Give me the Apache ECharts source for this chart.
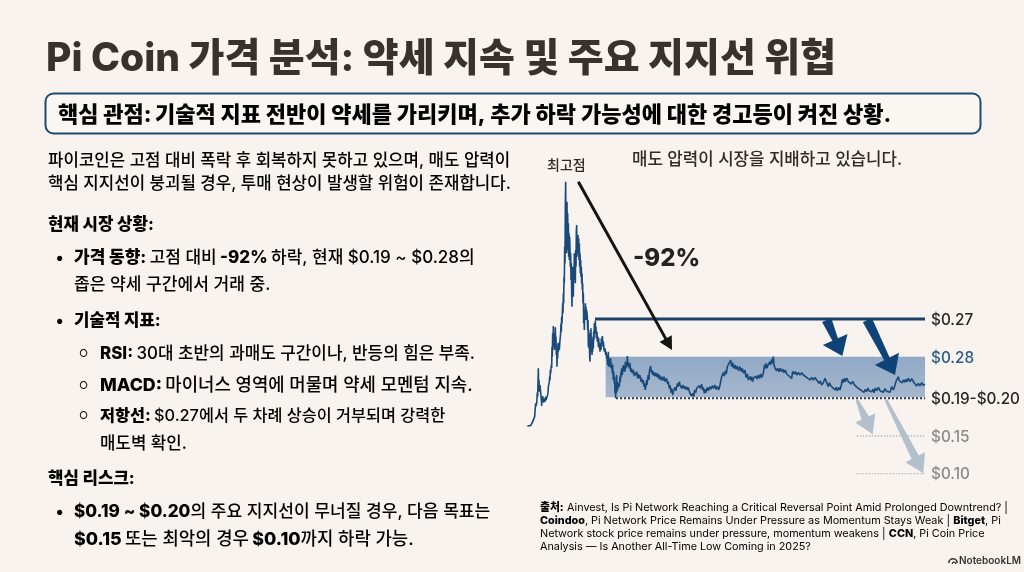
<!DOCTYPE html>
<html><head><meta charset="utf-8">
<style>html,body{margin:0;padding:0;background:#f8f3ee}#c{width:1024px;height:572px}</style>
<script src="https://cdn.jsdelivr.net/npm/echarts@6/dist/echarts.min.js"></script>
</head><body><div id="c"></div>
<script>
// Schematic price path: [time step, height above the chart floor]
const pricePath = [[22,162],[25,165],[28,168],[31,163],[33,166],[36,170],[38,168],[42,172],[44,190],[45,205],[47,230],[48,222],[50,230],[52,262],[53,250],[55,335],[56,280],[57,300],[58,265],[60,285],[62,280],[63,250],[64,240],[65,222],[66,250],[67,235],[68,252],[71,232],[72,245],[75,235],[77,250],[78,240],[82,252],[84,262],[85,280],[87,275],[88,295],[89,310],[90,300],[91,330],[92,320],[94,345],[95,335],[96,400],[97,370],[98,440],[99,400],[100,462],[101,410],[102,440],[103,390],[104,425],[105,395],[106,458],[107,400],[108,430],[109,375],[110,400],[111,340],[112,395],[113,365],[114,410],[115,385],[117,412],[118,390],[120,420],[122,440],[123,470],[124,445],[125,490],[126,470],[128,530],[129,500],[130,560],[131,530],[132,610],[133,590],[134,700],[135,650],[136,820],[137,895],[138,720],[139,790],[140,680],[141,835],[142,700],[143,800],[144,690],[145,770],[146,670],[147,740],[148,660],[149,730],[150,690],[151,640],[152,680],[153,600],[154,650],[155,560],[156,520],[157,640],[158,560],[159,610],[160,550],[161,640],[162,600],[163,680],[164,610],[165,650],[166,590],[167,690],[168,640],[169,745],[170,765],[171,670],[172,725],[173,680],[174,735],[175,690],[176,725],[177,660],[178,710],[179,640],[180,680],[181,620],[182,660],[183,610],[184,640],[185,590],[186,620],[187,570],[188,590],[189,530],[190,560],[191,470],[192,500],[193,450],[194,510],[195,480],[196,530],[197,490],[198,520],[199,480],[200,510],[202,490],[203,450],[204,480],[205,400],[206,450],[207,395],[208,420],[209,370],[210,355],[211,440],[212,400],[213,455],[214,385],[215,420],[216,375],[217,415],[218,385],[219,430],[220,395],[221,445],[222,420],[223,470],[224,440],[226,478],[227,440],[228,460],[229,425],[231,445],[232,415],[234,430],[235,400],[236,425],[238,395],[239,410],[240,385],[241,400],[243,390],[244,425],[246,415],[247,432],[249,400],[250,415],[252,395],[253,385],[255,395],[257,375],[258,385],[260,365],[261,375],[263,345],[265,385],[266,340],[268,365],[270,340],[272,365],[273,335],[275,350],[277,320],[278,345],[280,300],[281,325],[283,290],[284,310],[285,260],[286,285],[287,245],[288,290],[289,260],[290,315],[291,265],[292,295],[293,270],[295,290],[297,295],[298,280],[300,310],[301,295],[303,325],[304,310],[305,335],[307,315],[308,330],[310,345],[311,325],[313,340],[315,325],[316,355],[318,335],[319,350],[321,340],[322,372],[324,340],[326,352],[328,335],[330,350],[332,325],[334,335],[337,320],[340,330],[343,312],[345,322],[348,315],[350,325],[353,305],[355,318],[358,305],[360,315],[363,295],[365,305],[368,290],[370,300],[372,280],[374,290],[376,270],[378,285],[380,300],[381,285],[383,305],[385,315],[387,300],[388,325],[390,335],[392,342],[394,322],[396,330],[398,315],[400,325],[403,312],[406,322],[409,310],[412,320],[415,305],[418,316],[421,300],[425,310],[428,298],[432,310],[435,295],[440,305],[443,288],[445,295],[448,275],[450,285],[453,262],[455,275],[458,255],[460,265],[463,270],[465,278],[468,268],[470,280],[473,290],[475,280],[478,295],[480,285],[483,288],[485,275],[488,285],[490,275],[493,282],[497,272],[500,280],[503,270],[505,278],[508,265],[511,268],[514,252],[518,260],[521,250],[524,270],[527,262],[530,275],[534,270],[537,283],[541,275],[545,287],[548,270],[550,278],[553,260],[555,272],[558,262],[562,278],[565,268],[570,280],[573,272],[577,283],[581,275],[585,285],[588,272],[592,280],[596,270],[600,285],[603,290],[605,310],[608,305],[610,322],[613,312],[616,328],[619,318],[622,340],[625,335],[627,350],[630,345],[632,360],[635,340],[638,352],[641,335],[645,345],[648,332],[652,342],[656,328],[660,340],[664,325],[667,335],[671,320],[675,330],[678,308],[682,318],[685,300],[690,310],[693,298],[695,310],[698,295],[700,305],[704,300],[707,312],[711,303],[715,315],[719,305],[722,318],[726,308],[730,320],[732,335],[734,345],[736,335],[738,350],[741,335],[744,345],[747,340],[750,355],[752,345],[755,362],[757,350],[760,370],[762,345],[765,335],[768,340],[770,328],[773,335],[777,325],[781,335],[785,325],[789,332],[792,322],[796,330],[800,318],[804,322],[807,312],[811,318],[815,305],[818,326],[822,318],[826,325],[830,315],[835,323],[840,315],[845,322],[850,315],[855,320],[860,308],[865,312],[870,300],[875,308],[880,300],[885,308],[890,300],[893,303],[897,290],[901,297],[905,285],[910,292],[915,305],[920,292],[925,280],[928,292],[932,283],[938,280],[945,270],[948,278],[952,268],[956,278],[960,270],[964,285],[967,302],[970,292],[973,305],[976,295],[980,306],[985,295],[990,300],[994,288],[998,296],[1003,286],[1007,290],[1011,278],[1015,282],[1018,273],[1022,278],[1025,268],[1029,274],[1032,263],[1036,272],[1040,265],[1044,276],[1047,268],[1051,274],[1055,265],[1059,272],[1062,262],[1066,276],[1070,268],[1075,278],[1080,268],[1085,273],[1090,263],[1095,274],[1100,266],[1105,272],[1110,263],[1115,280],[1120,270],[1125,285],[1128,296],[1132,290],[1135,310],[1138,298],[1142,303],[1146,291],[1150,300],[1154,293],[1157,302],[1161,295],[1165,305],[1170,295],[1175,304],[1180,295],[1185,295],[1190,282],[1195,290],[1200,282],[1205,292],[1210,284],[1215,288]];

const resistanceLine = [[225,483],[1215,483]];
const supportLine = [[288,245],[1215,245]];
const target15Line = [[1010,132],[1215,132]];
const target10Line = [[1010,19],[1215,19]];
const bandRange = [257,1215,248,370];

const levelLabels = ["$0.27","$0.28","$0.19-$0.20","$0.15","$0.10"];
const levelHeights = [483,367,245,132,19];
const levelColors = ["#262626","#2c5a85","#262626","#8a8a8a","#8a8a8a"];

const blackArrow = [[175,895],[456,390]];
const navyArrows = [[[920,480],[967,372]],[[1042,480],[1125,315]]];
const greyArrows = [[[1011,240],[1058,137]],[[1098,240],[1210,20]]];

const chartFont = 'Inter, "Noto Sans CJK KR", sans-serif';
const bodyColor = '#2f2b29';
const navy = '#1b4d7c';

const T = (x, y, rich, text, extra) => ({
  type: 'text', x, y, silent: true,
  style: Object.assign({ text, rich, fontFamily: chartFont, verticalAlign: 'middle', textVerticalAlign: 'middle' }, extra || {})
});
const R = size => ({
  n: { fontSize: size, fontWeight: 500, color: bodyColor, fontFamily: chartFont, lineHeight: 20 },
  b: { fontSize: size, fontWeight: 800, color: '#221f1e', fontFamily: chartFont, lineHeight: 20 },
  c: { fontSize: 10, fontWeight: 500, color: bodyColor, fontFamily: chartFont, lineHeight: 20 }
});
const body = R(16.8);
const graphics = [
  { type: 'rect', shape: { x: 45.5, y: 93.5, width: 935, height: 40, r: 8 }, style: { fill: '#faf6f2', stroke: '#1f4a70', lineWidth: 2 }, silent: true },
  T(46, 59, null, 'Pi Coin 가격 분석: 약세 지속 및 주요 지지선 위협', { fontSize: 39, fontWeight: 800, fill: '#38322f' }),
  T(58, 115, {
    a: { fontSize: 22, fontWeight: 800, color: navy, fontFamily: chartFont },
    k: { fontSize: 22, fontWeight: 800, color: '#242120', fontFamily: chartFont }
  }, '{a|핵심 관점:} {k|기술적 지표 전반이 약세를 가리키며, 추가 하락 가능성에 대한 경고등이 켜진 상황.}'),
  T(48, 161, body, '{n|파이코인은 고점 대비 폭락 후 회복하지 못하고 있으며, 매도 압력이}'),
  T(48, 184, body, '{n|핵심 지지선이 붕괴될 경우, 투매 현상이 발생할 위험이 존재합니다.}'),
  T(48, 225, body, '{b|현재 시장 상황:}'),
  T(56, 258, body, '{b|•}'),
  T(74, 258, R(17), '{b|가격 동향:} {n|고점 대비} {b|-92%} {n|하락, 현재 $0.19 ~ $0.28의}'),
  T(74, 285, R(17.1), '{n|좁은 약세 구간에서 거래 중.}'),
  T(56, 321, body, '{b|•}'),
  T(74, 321, body, '{b|기술적 지표:}'),
  T(79, 354, body, '{c|○}'),
  T(100, 354, R(16.9), '{b|RSI:} {n|30대 초반의 과매도 구간이나, 반등의 힘은 부족.}'),
  T(79, 386, body, '{c|○}'),
  T(100, 386, R(17.8), '{b|MACD:} {n|마이너스 영역에 머물며 약세 모멘텀 지속.}'),
  T(79, 416, body, '{c|○}'),
  T(100, 416, R(16.3), '{b|저항선:} {n|$0.27에서 두 차례 상승이 거부되며 강력한}'),
  T(100, 444, body, '{n|매도벽 확인.}'),
  T(48, 479, body, '{b|핵심 리스크:}'),
  T(56, 512, body, '{b|•}'),
  T(74, 512, R(17.1), '{b|$0.19 ~ $0.20}{n|의 주요 지지선이 무너질 경우, 다음 목표는}'),
  T(74, 540, R(17.8), '{b|$0.15} {n|또는 최악의 경우} {b|$0.10}{n|까지 하락 가능.}'),
  T(547, 166, null, '최고점', { fontSize: 14, fontWeight: 500, fill: '#2f2b29' }),
  T(632, 160, null, '매도 압력이 시장을 지배하고 있습니다.', { fontSize: 16.8, fontWeight: 500, fill: '#2f2b29' }),
  T(633, 259, null, '-92%', { fontSize: 24, fontWeight: 800, fill: '#232323' })
];
const small = {
  n: { fontSize: 10.8, fontWeight: 400, color: '#333', fontFamily: chartFont },
  b: { fontSize: 10.8, fontWeight: 800, color: '#222', fontFamily: chartFont }
};
[
  [508, '{b|출처:} {n|Ainvest, Is Pi Network Reaching a Critical Reversal Point Amid Prolonged Downtrend? |}'],
  [521, '{b|Coindoo}{n|, Pi Network Price Remains Under Pressure as Momentum Stays Weak |} {b|Bitget}{n|, Pi}'],
  [534, '{n|Network stock price remains under pressure, momentum weakens |} {b|CCN}{n|, Pi Coin Price}'],
  [547, '{n|Analysis — Is Another All-Time Low Coming in 2025?}']
].forEach(l => graphics.push(T(540, l[0], small, l[1])));
graphics.push(T(959, 561, null, 'NotebookLM', { fontSize: 10, fontWeight: 600, fill: '#333' }));
graphics.push({ type: 'sector', silent: true, shape: { cx: 953, cy: 563, r: 5, r0: 3.4, startAngle: Math.PI, endAngle: 2 * Math.PI }, style: { fill: '#333' } });
graphics.push({ type: 'sector', silent: true, shape: { cx: 954, cy: 564, r: 2.4, r0: 1.2, startAngle: Math.PI, endAngle: 2 * Math.PI }, style: { fill: '#333' } });

function wedge(api, from, to, s) {
  const a = api.coord(from), b = api.coord(to);
  const dx = b[0] - a[0], dy = b[1] - a[1], len = Math.hypot(dx, dy);
  const ux = dx / len, uy = dy / len, nx = -uy, ny = ux;
  const hx = b[0] - ux * s.head, hy = b[1] - uy * s.head;
  return [
    [a[0] + nx * s.start / 2, a[1] + ny * s.start / 2],
    [hx + nx * s.neck / 2, hy + ny * s.neck / 2],
    [hx + nx * s.wing / 2, hy + ny * s.wing / 2],
    [b[0], b[1]],
    [hx - nx * s.wing / 2, hy - ny * s.wing / 2],
    [hx - nx * s.neck / 2, hy - ny * s.neck / 2],
    [a[0] - nx * s.start / 2, a[1] - ny * s.start / 2]
  ];
}
function arrowSeries(list, color, s, z) {
  return {
    type: 'custom', coordinateSystem: 'cartesian2d', silent: true, z, animation: false,
    data: list.map(a => [a[0][0], a[0][1], a[1][0], a[1][1]]),
    encode: { x: [0, 2], y: [1, 3] },
    renderItem: (p, api) => ({
      type: 'polygon',
      shape: { points: wedge(api, [api.value(0), api.value(1)], [api.value(2), api.value(3)], s) },
      style: { fill: color }
    })
  };
}
function levelLine(data, color, width, type) {
  return { type: 'line', data, symbol: 'none', silent: true, z: 4, animation: false,
    lineStyle: { color, width, type } };
}

const option = {
  backgroundColor: '#f8f3ee',
  animation: false,
  grid: { left: 520, right: 94, top: 160, bottom: 92 },
  xAxis: { type: 'value', min: 0, max: 1230, show: false },
  yAxis: { type: 'value', min: 0, max: 960, show: false },
  graphic: { elements: graphics },
  series: [
    {
      type: 'custom', coordinateSystem: 'cartesian2d', silent: true, z: 1,
      data: [bandRange],
      encode: { x: [0, 1], y: [2, 3] },
      renderItem: (p, api) => {
        const a = api.coord([api.value(0), api.value(3)]);
        const b = api.coord([api.value(1), api.value(2)]);
        return { type: 'rect', shape: { x: a[0], y: a[1], width: b[0] - a[0], height: b[1] - a[1] },
          style: { fill: { type: 'linear', x: 0, y: 0, x2: 0, y2: 1, colorStops: [{ offset: 0, color: '#90a9c6' }, { offset: 1, color: '#a5b7cd' }] } } };
      }
    },
    levelLine(target15Line, '#b4bcc2', 1.3, [1.5, 1.5]),
    levelLine(target10Line, '#b4bcc2', 1.3, [1.5, 1.5]),
    levelLine(supportLine, '#2a3a4a', 2, [2, 2]),
    levelLine(resistanceLine, '#1c4166', 3, 'solid'),
    { type: 'line', data: pricePath, symbol: 'none', silent: true, z: 5, lineStyle: { color: '#1a4a7a', width: 1.6, join: 'bevel' } },
    arrowSeries(greyArrows, '#b3c0cb', { start: 3, neck: 8, wing: 22, head: 18 }, 3),
    arrowSeries(navyArrows, '#0f4377', { start: 10, neck: 6, wing: 27, head: 18 }, 6),
    arrowSeries([blackArrow], '#141414', { start: 3, neck: 3, wing: 14, head: 13 }, 7),
    {
      type: 'custom', coordinateSystem: 'cartesian2d', silent: true, z: 8,
      data: levelHeights.map((h, i) => [1215, h, i]),
      encode: { x: 0, y: 1 },
      renderItem: (p, api) => {
        const c = api.coord([api.value(0), api.value(1)]);
        const i = api.value(2);
        return { type: 'text', x: c[0] + 6, y: c[1] + 1, style: {
          text: levelLabels[i], fill: levelColors[i], fontSize: 15.3, fontWeight: 500,
          fontFamily: chartFont, verticalAlign: 'middle', textVerticalAlign: 'middle' } };
      }
    }
  ]
};
const chart = echarts.init(document.getElementById('c'), null, { renderer: 'canvas' });
chart.setOption(option);
</script></body></html>
